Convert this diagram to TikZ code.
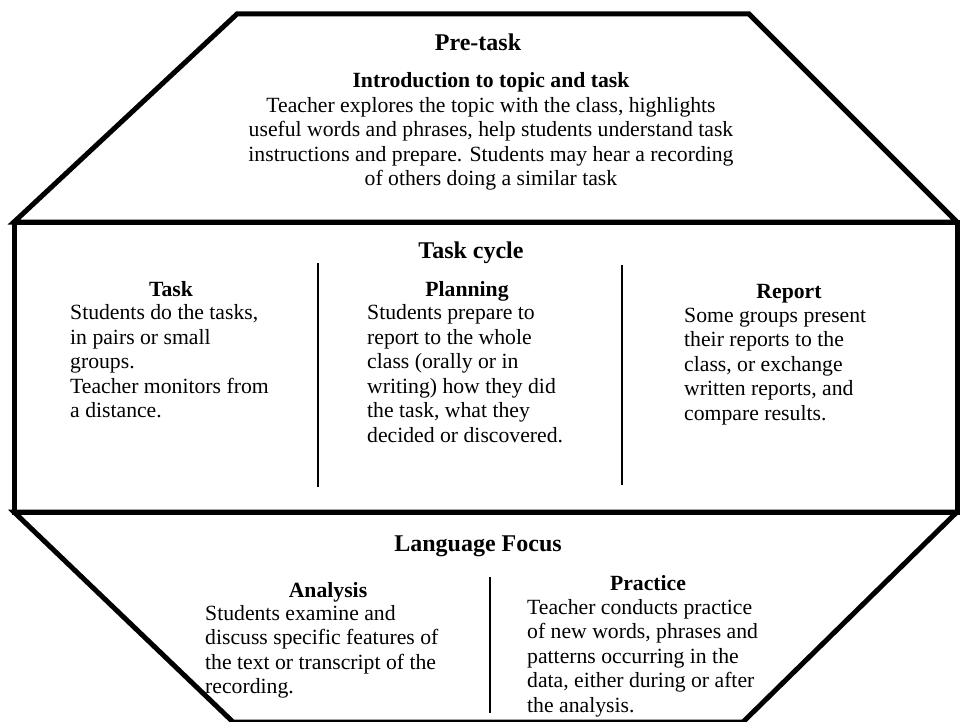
\documentclass[tikz,border=0pt]{standalone}
\usepackage{fontspec}
\setmainfont{Liberation Serif}

\tikzset{
  frame/.style={line width=5pt},
  divider/.style={line width=2pt},
  head/.style={font=\fontsize{24}{28}\selectfont\bfseries, inner sep=0pt, anchor=base},
  sub/.style={font=\fontsize{21.7}{24.5}\selectfont\bfseries, inner sep=0pt, anchor=base},
  txt/.style={font=\fontsize{21.7}{24.5}\selectfont, align=left, inner sep=0pt, anchor=north west}
}

\begin{document}
\begin{tikzpicture}[x=1pt,y=-1pt]
        \useasboundingbox[fill=white] (0,0) rectangle (960,722);
        % the three blocks
        \draw[frame] (237,14) -- (749,14) -- (957,222) -- (14,222) -- cycle;
        \draw[frame] (14,222) rectangle (957,512);
        \draw[frame] (14,512) -- (957,512) -- (743,722) -- (233,722) -- cycle;
        \draw[divider] (318,263) -- (318,487);
        \draw[divider] (622,265) -- (622,485);
        \draw[divider] (490,577) -- (490,713);

        % pre-task
        \node[head] (pretask) at (478,51) {Pre-task};
        \node[sub] (intro) at (491,88) {Introduction to topic and task};
        \node[txt, anchor=north, align=center] (introtxt) at (491,97)
          {Teacher explores the topic with the class, highlights\\
           useful words and phrases, help students understand task\\
           instructions and prepare. Students may hear a recording\\
           of others doing a similar task};

        % task cycle
        \node[head] (cycle) at (471,258) {Task cycle};
        \node[sub] (task) at (171,296) {Task};
        \node[txt] (tasktxt) at (70,304.5)
          {Students do the tasks,\\ in pairs or small\\ groups.\\
           Teacher monitors from\\ a distance.};
        \node[sub] (plan) at (467,296) {Planning};
        \node[txt] (plantxt) at (367,304.5)
          {Students prepare to\\ report to the whole\\ class (orally or in\\
           writing) how they did\\ the task, what they\\ decided or discovered.};
        \node[sub] (report) at (789,298) {Report};
        \node[txt] (reporttxt) at (684,307.5)
          {Some groups present\\ their reports to the\\ class, or exchange\\
           written reports, and\\ compare results.};

        % language focus
        \node[head] (focus) at (478,551) {Language Focus};
        \node[sub] (analysis) at (328,597) {Analysis};
        \node[txt] (analysistxt) at (205,605)
          {Students examine and\\ discuss specific features of\\
           the text or transcript of the\\ recording.};
        \node[sub] (practice) at (648,590) {Practice};
        \node[txt] (practicetxt) at (527,599)
          {Teacher conducts practice\\ of new words, phrases and\\
           patterns occurring in the\\ data, either during or after\\ the analysis.};
      \end{tikzpicture}
\end{document}
